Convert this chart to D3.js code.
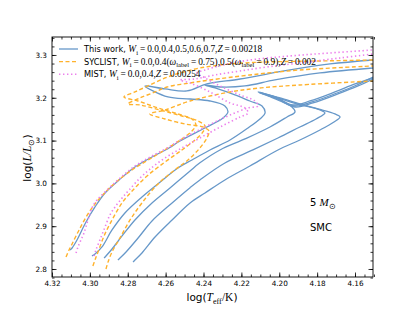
<!DOCTYPE html>
<html>
<head>
<meta charset="utf-8">
<script src="https://d3js.org/d3.v7.min.js"></script>
<style>
  body { margin: 0; background: #fff; }
  svg text { font-family: "DejaVu Sans", sans-serif; fill: #000; }
</style>
</head>
<body>
<div id="chart"></div>
<script>
// each track is a list of [log Teff, log L]
var thisWorkW00 = [[4.3105,2.8445],[4.3094,2.8491],[4.3068,2.8678],[4.3026,2.9052],[4.2973,2.9449],[4.2920,2.9776],[4.2846,3.0080],[4.2762,3.0384],[4.2672,3.0617],[4.2582,3.0828],[4.2524,3.0991],[4.2382,3.1318],[4.2297,3.1528],[4.2271,3.1668],[4.2287,3.1809],[4.2366,3.1925],[4.2471,3.1972],[4.2588,3.2019],[4.2709,3.2276],[4.2603,3.2206],[4.2487,3.2159],[4.2382,3.2323],[4.2207,3.2439],[4.1943,3.2650],[4.1732,3.2790],[4.1505,3.2883]];
var thisWorkW04 = [[4.2989,2.8305],[4.2973,2.8351],[4.2936,2.8515],[4.2883,2.8912],[4.2815,2.9309],[4.2725,2.9683],[4.2635,3.0010],[4.2535,3.0360],[4.2461,3.0547],[4.2366,3.0781],[4.2260,3.1014],[4.2165,3.1295],[4.2102,3.1505],[4.2075,3.1645],[4.2091,3.1809],[4.2155,3.1925],[4.2234,3.2066],[4.2339,3.2229],[4.2392,3.2299],[4.2313,3.2252],[4.2181,3.2276],[4.2023,3.2416],[4.1785,3.2580],[4.1505,3.2696]];
var thisWorkW05 = [[4.2925,2.8258],[4.2915,2.8305],[4.2883,2.8468],[4.2830,2.8772],[4.2762,2.9146],[4.2672,2.9543],[4.2577,2.9893],[4.2471,3.0290],[4.2419,3.0480],[4.2313,3.0781],[4.2181,3.1038],[4.2049,3.1318],[4.1959,3.1552],[4.1917,3.1668],[4.1933,3.1785],[4.1996,3.1925],[4.2060,3.2042],[4.2112,3.2136],[4.2023,3.2019],[4.1928,3.1832],[4.1838,3.1925],[4.1706,3.2136],[4.1600,3.2323],[4.1505,3.2463]];
var thisWorkW06 = [[4.2852,2.8211],[4.2841,2.8258],[4.2809,2.8398],[4.2741,2.8748],[4.2672,2.9122],[4.2566,2.9543],[4.2471,2.9900],[4.2419,3.0080],[4.2287,3.0477],[4.2139,3.0781],[4.2007,3.1061],[4.1891,3.1318],[4.1806,3.1505],[4.1759,3.1645],[4.1785,3.1715],[4.1864,3.1809],[4.1943,3.1902],[4.2023,3.2019],[4.2102,3.2112],[4.2017,3.1996],[4.1922,3.1809],[4.1827,3.1902],[4.1695,3.2112],[4.1590,3.2299],[4.1505,3.2486]];
var thisWorkW07 = [[4.2772,2.8164],[4.2762,2.8211],[4.2725,2.8375],[4.2656,2.8748],[4.2566,2.9146],[4.2471,2.9543],[4.2392,2.9776],[4.2287,3.0080],[4.2155,3.0407],[4.2007,3.0781],[4.1891,3.1014],[4.1785,3.1248],[4.1711,3.1435],[4.1679,3.1552],[4.1706,3.1622],[4.1796,3.1739],[4.1891,3.1855],[4.1996,3.1996],[4.2091,3.2112],[4.2007,3.1972],[4.1917,3.1785],[4.1822,3.1879],[4.1690,3.2089],[4.1584,3.2276],[4.1505,3.2439]];

var syclistW00 = [[4.3126,2.8281],[4.3110,2.8445],[4.3094,2.8585],[4.3057,2.8912],[4.3010,2.9286],[4.2947,2.9659],[4.2867,3.0010],[4.2778,3.0314],[4.2683,3.0571],[4.2588,3.0828],[4.2514,3.1038],[4.2461,3.1225],[4.2440,3.1365],[4.2461,3.1505],[4.2535,3.1622],[4.2640,3.1762],[4.2746,3.1925],[4.2820,3.2019],[4.2762,3.2136],[4.2683,3.2299],[4.2603,3.2463],[4.2524,3.2580],[4.2419,3.2696],[4.2260,3.2790],[4.2065,3.2836],[4.1785,3.2860],[4.1505,3.2883]];
var syclistW04 = [[4.2984,2.8071],[4.2973,2.8211],[4.2957,2.8398],[4.2925,2.8772],[4.2883,2.9146],[4.2830,2.9543],[4.2772,2.9846],[4.2698,3.0173],[4.2603,3.0500],[4.2514,3.0781],[4.2445,3.1014],[4.2403,3.1201],[4.2392,3.1341],[4.2429,3.1458],[4.2514,3.1575],[4.2630,3.1715],[4.2735,3.1832],[4.2799,3.1855],[4.2735,3.1996],[4.2656,3.2136],[4.2593,3.2252],[4.2471,3.2346],[4.2366,3.2416],[4.2155,3.2533],[4.1891,3.2650],[4.1505,3.2743]];
var syclistW05 = [[4.2915,2.8001],[4.2904,2.8164],[4.2883,2.8398],[4.2841,2.8725],[4.2788,2.9146],[4.2725,2.9543],[4.2646,2.9963],[4.2566,3.0267],[4.2482,3.0547],[4.2419,3.0828],[4.2382,3.1061],[4.2371,3.1225],[4.2403,3.1318],[4.2498,3.1388],[4.2603,3.1505],[4.2683,3.1622],[4.2603,3.1715],[4.2471,3.1925],[4.2260,3.2136],[4.2102,3.2229],[4.1891,3.2299],[4.1505,3.2393]];

var mistW00 = [[4.3073,2.8375],[4.3063,2.8515],[4.3047,2.8678],[4.3031,2.8842],[4.3010,2.9146],[4.2989,2.9426],[4.2962,2.9613],[4.2920,2.9800],[4.2846,3.0103],[4.2762,3.0407],[4.2672,3.0641],[4.2582,3.0851],[4.2524,3.1014],[4.2382,3.1341],[4.2271,3.1575],[4.2165,3.1762],[4.2112,3.1809],[4.2128,3.1925],[4.2207,3.2066],[4.2313,3.2276],[4.2392,3.2463],[4.2434,3.2580],[4.2392,3.2650],[4.2297,3.2766],[4.2155,3.2883],[4.1943,3.2977],[4.1732,3.3047],[4.1505,3.3117]];
var mistW04 = [[4.2978,2.8305],[4.2968,2.8445],[4.2947,2.8678],[4.2920,2.8982],[4.2894,2.9262],[4.2867,2.9449],[4.2830,2.9659],[4.2793,2.9846],[4.2735,3.0127],[4.2688,3.0314],[4.2619,3.0547],[4.2524,3.0804],[4.2419,3.1061],[4.2302,3.1341],[4.2207,3.1552],[4.2165,3.1645],[4.2181,3.1762],[4.2260,3.1879],[4.2366,3.2136],[4.2471,3.2346],[4.2524,3.2416],[4.2445,3.2439],[4.2339,3.2533],[4.2207,3.2626],[4.2065,3.2720],[4.1891,3.2813],[4.1679,3.2930],[4.1505,3.3023]];

var xTicks = [4.32, 4.30, 4.28, 4.26, 4.24, 4.22, 4.20, 4.18, 4.16];
var yTicks = [2.8, 2.9, 3.0, 3.1, 3.2, 3.3];
var xMinor = d3.range(4.315, 4.149, -0.005);
var yMinor = d3.range(2.78, 3.345, 0.02);

var blue = "#6798c9", orange = "#ffb22c", violet = "#ec80ec";

var svg = d3.select("#chart").append("svg")
    .attr("width", 415)
    .attr("height", 312);

var x = d3.scaleLinear().domain([4.32, 4.1505]).range([52, 373]);
var y = d3.scaleLinear().domain([2.7813, 3.342]).range([277, 37]);

svg.append("clipPath").attr("id", "plotclip")
  .append("rect")
    .attr("x", 52).attr("y", 37)
    .attr("width", 321).attr("height", 240);

var line = d3.line()
    .x(function(d) { return x(d[0]); })
    .y(function(d) { return y(d[1]); })
    .curve(d3.curveCatmullRom.alpha(0.5));

var plot = svg.append("g").attr("clip-path", "url(#plotclip)");

var tracks = [
  {data: thisWorkW00, color: blue, dash: null, w: 1.3},
  {data: thisWorkW04, color: blue, dash: null, w: 1.3},
  {data: thisWorkW05, color: blue, dash: null, w: 1.3},
  {data: thisWorkW06, color: blue, dash: null, w: 1.3},
  {data: thisWorkW07, color: blue, dash: null, w: 1.3},
  {data: syclistW00, color: orange, dash: "4,2.5", w: 1.4},
  {data: syclistW04, color: orange, dash: "4,2.5", w: 1.4},
  {data: syclistW05, color: orange, dash: "4,2.5", w: 1.4},
  {data: mistW00, color: violet, dash: "1.4,2.6", w: 1.6},
  {data: mistW04, color: violet, dash: "1.4,2.6", w: 1.6}
];

plot.selectAll("path.track")
    .data(tracks)
    .enter()
    .append("path")
    .attr("class", "track")
    .attr("d", function(d) { return line(d.data); })
    .attr("fill", "none")
    .attr("stroke", function(d) { return d.color; })
    .attr("stroke-width", function(d) { return d.w; })
    .attr("stroke-dasharray", function(d) { return d.dash; });

// axes, ticks pointing inward on all sides
function styleAxis(g) {
  g.select(".domain").remove();
  g.selectAll("line").attr("stroke", "#000").attr("stroke-width", 0.8);
  g.selectAll("text").attr("font-size", 7.3).attr("font-family", "DejaVu Sans").attr("fill", "#222");
}

svg.append("g").attr("transform", "translate(0,277)")
  .call(d3.axisBottom(x).tickValues(xTicks).tickSize(-4.5).tickPadding(4).tickFormat(d3.format(".2f")))
  .call(styleAxis);
svg.append("g").attr("transform", "translate(0,277)")
  .call(d3.axisBottom(x).tickValues(xMinor).tickSize(-2.5).tickFormat(""))
  .call(styleAxis);
svg.append("g").attr("transform", "translate(0,37)")
  .call(d3.axisTop(x).tickValues(xTicks).tickSize(-4.5).tickFormat(""))
  .call(styleAxis);
svg.append("g").attr("transform", "translate(0,37)")
  .call(d3.axisTop(x).tickValues(xMinor).tickSize(-2.5).tickFormat(""))
  .call(styleAxis);
svg.append("g").attr("transform", "translate(52,0)")
  .call(d3.axisLeft(y).tickValues(yTicks).tickSize(-4.5).tickPadding(5).tickFormat(d3.format(".1f")))
  .call(styleAxis);
svg.append("g").attr("transform", "translate(52,0)")
  .call(d3.axisLeft(y).tickValues(yMinor).tickSize(-2.5).tickFormat(""))
  .call(styleAxis);
svg.append("g").attr("transform", "translate(373,0)")
  .call(d3.axisRight(y).tickValues(yTicks).tickSize(-4.5).tickFormat(""))
  .call(styleAxis);
svg.append("g").attr("transform", "translate(373,0)")
  .call(d3.axisRight(y).tickValues(yMinor).tickSize(-2.5).tickFormat(""))
  .call(styleAxis);

svg.append("rect")
    .attr("x", 52).attr("y", 37)
    .attr("width", 321).attr("height", 240)
    .attr("fill", "none")
    .attr("stroke", "#000")
    .attr("stroke-width", 0.9);

// rich text helper: segments of [text, kind]; math parts use a serif face
var serif = "Liberation Serif";
function rich(sel, parts, size, mathSize) {
  parts.forEach(function(p) {
    var t = sel.append("tspan").text(p[0]);
    var k = p[1] || "";
    if (k.indexOf("rm") >= 0 || k.indexOf("it") >= 0) t.attr("font-family", serif).attr("font-size", mathSize);
    if (k.indexOf("it") >= 0) t.attr("font-style", "italic");
    if (k.indexOf("sub") >= 0) {
      t.attr("font-size", mathSize * 0.7).attr("dy", mathSize * 0.25);
      sel.append("tspan").attr("dy", -mathSize * 0.25).attr("font-size", 1).text("\u200a");
    }
  });
}

var sp = "\u2009";
var legendRows = [
  {color: blue, dash: null, w: 1.3, parts: [["This work, "], ["W", "it"], ["i", "rm sub"], [sp + "=" + sp + "0.0,0.4,0.5,0.6,0.7,", "rm"], ["Z", "it"], [sp + "=" + sp + "0.00218", "rm"]]},
  {color: orange, dash: "4,2.5", w: 1.4, parts: [["SYCLIST, "], ["W", "it"], ["i", "rm sub"], [sp + "=" + sp + "0.0,0.4(", "rm"], ["\u03c9", "it"], ["label", "rm sub"], [sp + "=" + sp + "0.75),0.5(", "rm"], ["\u03c9", "it"], ["label", "rm sub"], [sp + "=" + sp + "0.9),", "rm"], ["Z", "it"], [sp + "=" + sp + "0.002", "rm"]]},
  {color: violet, dash: "1.4,2.6", w: 1.6, parts: [["MIST, "], ["W", "it"], ["i", "rm sub"], [sp + "=" + sp + "0.0,0.4,", "rm"], ["Z", "it"], [sp + "=" + sp + "0.00254", "rm"]]}
];

var legend = svg.append("g");
legendRows.forEach(function(r, i) {
  var yy = 49 + i * 12.6;
  legend.append("line")
      .attr("x1", 59).attr("x2", 78)
      .attr("y1", yy).attr("y2", yy)
      .attr("stroke", r.color)
      .attr("stroke-width", r.w)
      .attr("stroke-dasharray", r.dash);
  var t = legend.append("text")
      .attr("x", 84).attr("y", yy + 3.2)
      .attr("font-size", 8.2);
  rich(t, r.parts, 8.2, 9.4);
});

// annotations
var ann1 = svg.append("text").attr("x", 310).attr("y", 206).attr("font-size", 10);
rich(ann1, [["5 "], ["M", "it"], ["\u2299", "rm sub"]], 10, 11);
svg.append("text").attr("x", 310).attr("y", 231).attr("font-size", 10).text("SMC");

// axis labels
var xl = svg.append("text").attr("x", 212).attr("y", 301).attr("text-anchor", "middle").attr("font-size", 10.5);
rich(xl, [["log("], ["T", "it"], ["eff", "rm sub"], ["/K", "rm"], [")"]], 10.5, 11.5);

var yl = svg.append("text")
    .attr("transform", "translate(31,158) rotate(-90)")
    .attr("text-anchor", "middle")
    .attr("font-size", 10.5);
rich(yl, [["log("], ["L", "it"], ["/L", "it"], ["\u2299", "rm sub"], [")"]], 10.5, 11.5);
</script>
</body>
</html>
